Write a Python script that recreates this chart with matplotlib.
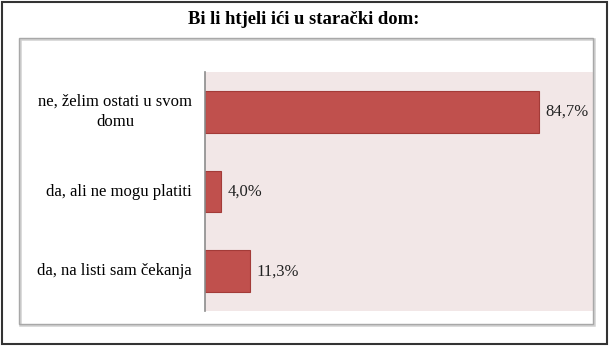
import matplotlib.pyplot as plt
from matplotlib.patches import Rectangle
from matplotlib.transforms import blended_transform_factory, offset_copy

categories = ["ne, želim ostati u svom\ndomu", "da, ali ne mogu platiti", "da, na listi sam čekanja"]
values = [84.7, 4.0, 11.3]
valueLabels = ["84,7%", "4,0%", "11,3%"]
title = "Bi li htjeli ići u starački dom:"

plt.rcParams["font.family"] = ["Liberation Serif", "DejaVu Serif"]

W, H = 610, 348
fig = plt.figure(figsize=(W/100, H/100), dpi=100)
fig.patch.set_facecolor("white")

# outer black frame and inner gray chart frame
fig.add_artist(Rectangle((2/W, 1 - 344/H), 605/W, 342/H, transform=fig.transFigure,
                         fill=False, edgecolor="#333333", linewidth=1.5))
fig.add_artist(Rectangle((20/W, 1 - 325/H), 574/W, 286/H, transform=fig.transFigure,
                         fill=False, edgecolor="#D0D0D0", linewidth=1.8))
fig.add_artist(Rectangle((19/W, 1 - 324/H), 574/W, 286/H, transform=fig.transFigure,
                         fill=False, edgecolor="#A8A8A8", linewidth=1.0))

fig.text(304/W, 1 - 19/H, title, ha="center", va="center", fontsize=13.4, fontweight="bold")

ax = fig.add_axes([205/W, 1 - 311/H, 388/W, 239/H])
ax.set_facecolor("#F2E7E7")
ypos = list(range(len(categories)))
ax.barh(ypos, values, height=0.52, color="#C0504D", edgecolor="#A33B38", linewidth=0.8)
for y, v, lab in zip(ypos, values, valueLabels):
    ax.text(v + 1.8, y, lab, va="center", ha="left", fontsize=12, color="#222222")

ax.set_xlim(0, 98.5)
ax.set_ylim(2.5, -0.5)
ax.set_yticks([])
ax.set_xticks([])

# category labels drawn as text so the two-line label can be centred
labTrans = offset_copy(blended_transform_factory(ax.transAxes, ax.transData),
                       fig=fig, x=-13, y=0, units="dots")
for y, cat in zip(ypos, categories):
    ax.text(0, y, cat, transform=labTrans, ha="right", va="center",
            multialignment="center", fontsize=12, linespacing=1.3)

for s in ["top", "right", "bottom"]:
    ax.spines[s].set_visible(False)
ax.spines["left"].set_color("#8C8C8C")
ax.spines["left"].set_linewidth(1.2)

plt.savefig("out.png", dpi=100)
